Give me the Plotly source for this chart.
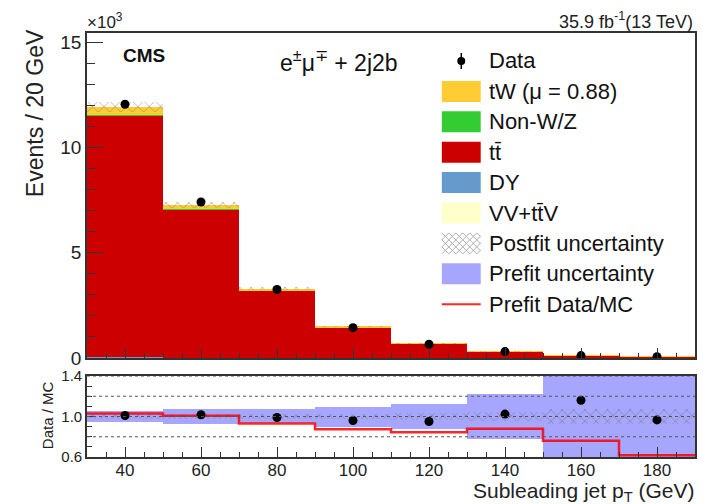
import numpy as np
import plotly.graph_objects as go

# ---------------- data ----------------
bin_edges = [30, 50, 70, 90, 110, 130, 150, 170, 190]
bin_centers = [40, 60, 80, 100, 120, 140, 160, 180]
bin_width = 20

vv_ttv = [10, 6, 3, 2, 1, 0.5, 0.3, 0.2]
dy = [15, 8, 4, 2, 1, 0.5, 0.3, 0.2]
ttbar = [11500, 7060, 3200, 1460, 665, 288, 95, 60]
non_wz = [20, 12, 5, 3, 2, 1, 0.5, 0.3]
tw = [390, 200, 75, 35, 16, 8, 3, 2]
data = [12055, 7410, 3255, 1442, 651, 305, 115, 60.6]

postfit_rel_unc = [0.02, 0.02, 0.02, 0.025, 0.03, 0.045, 0.07, 0.07]
prefit_band_hi = [1.058, 1.075, 1.075, 1.095, 1.119, 1.227, 1.45, 1.45]
prefit_band_lo = [0.949, 0.930, 0.940, 0.898, 0.880, 0.773, 0.55, 0.55]
prefit_ratio = [1.03, 1.007, 0.932, 0.875, 0.844, 0.878, 0.76, 0.617]

y_ticks_main = [0, 5000, 10000, 15000]
y_ticklabels_main = ["0", "5", "10", "15"]
y_ticks_ratio = [0.6, 1.0, 1.4]
y_ticklabels_ratio = ["0.6", "1.0", "1.4"]

# ---------------- geometry ----------------
W, H = 703, 504
ml, mr, mt, mb = 87, 6, 33, 47
pw = W - ml - mr
ph = H - mt - mb


def px(x):
    return (x - ml) / pw


def py(y):
    return (H - mb - y) / ph


FONT = "Liberation Sans, Arial, Helvetica, sans-serif"
AX = "#333333"

C_TW = "#ffcc33"
C_NONWZ = "#33cc33"
C_TT = "#cc0000"
C_DY = "#6699cc"
C_VV = "#ffffcc"
C_PRE = "rgba(102,102,255,0.58)"
C_RED = "rgba(255,0,0,0.85)"

components = [  # bottom -> top
    ("VV+tt\u0304V", vv_ttv, C_VV),
    ("DY", dy, C_DY),
    ("tt\u0304", ttbar, C_TT),
    ("Non-W/Z", non_wz, C_NONWZ),
    ("tW (\u03bc = 0.88)", tw, C_TW),
]

fig = go.Figure()

cum = np.zeros(len(bin_centers))
for name, vals, col in components:
    v = np.array(vals, dtype=float)
    fig.add_trace(go.Bar(
        x=bin_centers, y=v, base=cum.copy(), width=bin_width,
        marker=dict(color=col, line=dict(width=0)),
        name=name, showlegend=False, xaxis="x", yaxis="y",
    ))
    cum = cum + v
total = cum

# postfit uncertainty hatch on stack
unc = total * np.array(postfit_rel_unc)
hatch = dict(shape="x", size=8, solidity=0.22, fgcolor="#6e6e6e",
             bgcolor="rgba(0,0,0,0)", fillmode="overlay")
fig.add_trace(go.Bar(
    x=bin_centers, y=2 * unc, base=total - unc, width=bin_width,
    marker=dict(color="rgba(0,0,0,0)", line=dict(width=0), pattern=hatch),
    showlegend=False, xaxis="x", yaxis="y",
))

fig.add_trace(go.Scatter(
    x=bin_centers, y=data, mode="markers",
    marker=dict(color="black", size=9),
    showlegend=False, xaxis="x", yaxis="y",
))

# ---------------- ratio panel ----------------
hi = np.array(prefit_band_hi)
lo = np.array(prefit_band_lo)
fig.add_trace(go.Bar(
    x=bin_centers, y=hi - lo, base=lo, width=bin_width,
    marker=dict(color=C_PRE, line=dict(width=0)),
    showlegend=False, xaxis="x2", yaxis="y2",
))
rel = np.array(postfit_rel_unc)
fig.add_trace(go.Bar(
    x=bin_centers, y=2 * rel, base=1 - rel, width=bin_width,
    marker=dict(color="rgba(0,0,0,0)", line=dict(width=0), pattern=hatch),
    showlegend=False, xaxis="x2", yaxis="y2",
))
fig.add_trace(go.Scatter(
    x=bin_edges, y=list(prefit_ratio) + [prefit_ratio[-1]],
    mode="lines", line=dict(color=C_RED, width=2.5, shape="hv"),
    showlegend=False, xaxis="x2", yaxis="y2",
))
ratio = np.array(data) / total
fig.add_trace(go.Scatter(
    x=bin_centers, y=ratio, mode="markers",
    marker=dict(color="black", size=9),
    showlegend=False, xaxis="x2", yaxis="y2",
))

# ---------------- shapes ----------------
shapes = []
for yv in [0.8, 1.0, 1.2, 1.4]:
    shapes.append(dict(type="line", xref="x2 domain", yref="y2", x0=0, x1=1,
                       y0=yv, y1=yv, line=dict(color="#555555", width=1, dash="dot"),
                       layer="above"))

# manual legend
lx0, lx1 = 443, 482
ly = [61 + 30.4 * i for i in range(9)]
box_h = 21
legend_boxes = [
    (1, C_TW), (2, C_NONWZ), (3, C_TT), (4, C_DY), (5, C_VV), (7, C_PRE),
]
for i, col in legend_boxes:
    shapes.append(dict(type="rect", xref="paper", yref="paper",
                       x0=px(lx0), x1=px(lx1), y0=py(ly[i] + box_h / 2), y1=py(ly[i] - box_h / 2),
                       fillcolor=col, line=dict(width=0)))
# data icon
shapes.append(dict(type="line", xref="paper", yref="paper",
                   x0=px(462.5), x1=px(462.5), y0=py(ly[0] + 8), y1=py(ly[0] - 8),
                   line=dict(color="black", width=1.5)))
shapes.append(dict(type="circle", xref="paper", yref="paper",
                   x0=px(458.5), x1=px(466.5), y0=py(ly[0] + 4), y1=py(ly[0] - 4),
                   fillcolor="black", line=dict(width=0)))
# red line icon
shapes.append(dict(type="line", xref="paper", yref="paper",
                   x0=px(lx0), x1=px(lx1), y0=py(ly[8]), y1=py(ly[8]),
                   line=dict(color=C_RED, width=2)))
# hatch icon (cross-hatch clipped to box)
hx0, hx1 = lx0, lx1
hy0, hy1 = ly[6] - box_h / 2, ly[6] + box_h / 2
step = 7
for sgn in (1, -1):
    for k in range(-6, 12):
        c = hx0 + k * step
        pts = []
        for x in (hx0, hx1):
            yv = hy0 + (x - c) if sgn == 1 else hy1 - (x - c)
            pts.append((x, yv))
        (xa, ya), (xb, yb) = pts
        t0, t1 = 0.0, 1.0
        dxl, dyl = xb - xa, yb - ya
        for p, q in ((-dyl, ya - hy0), (dyl, hy1 - ya)):
            r = q / p
            if p < 0:
                t0 = max(t0, r)
            else:
                t1 = min(t1, r)
        if t1 > t0:
            shapes.append(dict(type="line", xref="paper", yref="paper",
                               x0=px(xa + t0 * dxl), x1=px(xa + t1 * dxl),
                               y0=py(ya + t0 * dyl), y1=py(ya + t1 * dyl),
                               line=dict(color="#b0b0b0", width=1)))

legend_texts = ["Data", "tW (\u03bc = 0.88)", "Non-W/Z", "tt\u0304", "DY", "VV+tt\u0304V",
                "Postfit uncertainty", "Prefit uncertainty", "Prefit Data/MC"]

annotations = []
for i, t in enumerate(legend_texts):
    annotations.append(dict(xref="paper", yref="paper", x=px(488), y=py(ly[i]),
                            xanchor="left", yanchor="middle", showarrow=False, text=t,
                            font=dict(size=22, color="#111111", family=FONT)))

annotations += [
    dict(xref="paper", yref="paper", x=px(85), y=py(34), xanchor="left", yanchor="bottom",
         showarrow=False, text="\u00d710<sup>3</sup>", font=dict(size=17, color="#222", family=FONT)),
    dict(xref="paper", yref="paper", x=px(121), y=py(56), xanchor="left", yanchor="middle",
         showarrow=False, text="<b>CMS</b>", font=dict(size=19, color="#111", family=FONT)),
    dict(xref="paper", yref="paper", x=px(279), y=py(61), xanchor="left", yanchor="middle",
         showarrow=False, text="e<sup>\u00b1</sup>\u03bc<sup>\u2213</sup> + 2j2b",
         font=dict(size=23, color="#111", family=FONT)),
    dict(xref="paper", yref="paper", x=px(697), y=py(21), xanchor="right", yanchor="middle",
         showarrow=False, text="35.9 fb<sup>-1</sup>(13 TeV)", font=dict(size=18, color="#222", family=FONT)),
    dict(xref="paper", yref="paper", x=px(35), y=py(113), xanchor="center", yanchor="middle",
         showarrow=False, textangle=-90, text="Events / 20 GeV", font=dict(size=23, color="#222", family=FONT)),
    dict(xref="paper", yref="paper", x=px(47), y=py(415), xanchor="center", yanchor="middle",
         showarrow=False, textangle=-90, text="Data / MC", font=dict(size=15, color="#222", family=FONT)),
    dict(xref="paper", yref="paper", x=px(697), y=py(506), xanchor="right", yanchor="bottom",
         showarrow=False, text="Subleading jet p<sub>T</sub> (GeV)", borderpad=0,
         font=dict(size=21, color="#222", family=FONT)),
]

xaxis_common = dict(
    range=[30, 190], tickmode="linear", tick0=40, dtick=20,
    ticks="inside", ticklen=10, tickwidth=1.3, tickcolor=AX,
    minor=dict(ticks="inside", ticklen=5, dtick=5, tick0=30, tickcolor=AX, tickwidth=1),
    showline=True, linecolor=AX, linewidth=1.6, mirror=True,
    showgrid=False, zeroline=False, layer="above traces",
)

fig.update_layout(
    width=W, height=H,
    margin=dict(l=ml, r=mr, t=mt, b=mb),
    paper_bgcolor="white", plot_bgcolor="white",
    barmode="overlay", bargap=0,
    showlegend=False,
    font=dict(family=FONT, color="#222"),
    xaxis=dict(**xaxis_common, anchor="y", showticklabels=False),
    xaxis2=dict(**xaxis_common, anchor="y2", matches="x", showticklabels=True,
                ticklabelstandoff=-3,
                tickfont=dict(size=17, family=FONT, color="#222")),
    yaxis=dict(domain=[py(358), 1], range=[0, 15440], anchor="x",
               tickmode="array", tickvals=y_ticks_main, ticktext=y_ticklabels_main,
               ticks="inside", ticklen=16, tickwidth=1.3, tickcolor=AX,
               minor=dict(ticks="inside", ticklen=8, tickmode="linear", tick0=0, dtick=1000,
                          tickcolor=AX, tickwidth=1),
               tickfont=dict(size=19, family=FONT, color="#222"),
               showline=True, linecolor=AX, linewidth=1.6, mirror=True,
               showgrid=False, zeroline=False, layer="above traces"),
    yaxis2=dict(domain=[0, py(376)], range=[0.6, 1.4], anchor="x2",
                tickmode="array", tickvals=y_ticks_ratio, ticktext=y_ticklabels_ratio,
                ticks="inside", ticklen=9, tickwidth=1.3, tickcolor=AX,
                minor=dict(ticks="inside", ticklen=5, tickmode="linear", tick0=0.6, dtick=0.1,
                           tickcolor=AX, tickwidth=1),
                tickfont=dict(size=15, family=FONT, color="#222"),
                showline=True, linecolor=AX, linewidth=1.6, mirror=True,
                showgrid=False, zeroline=False, layer="above traces"),
    shapes=shapes,
    annotations=annotations,
)

fig.write_html("out.html",
               config={"displayModeBar": False},
               post_script="document.body.style.margin='0';document.body.style.overflow='hidden';")
